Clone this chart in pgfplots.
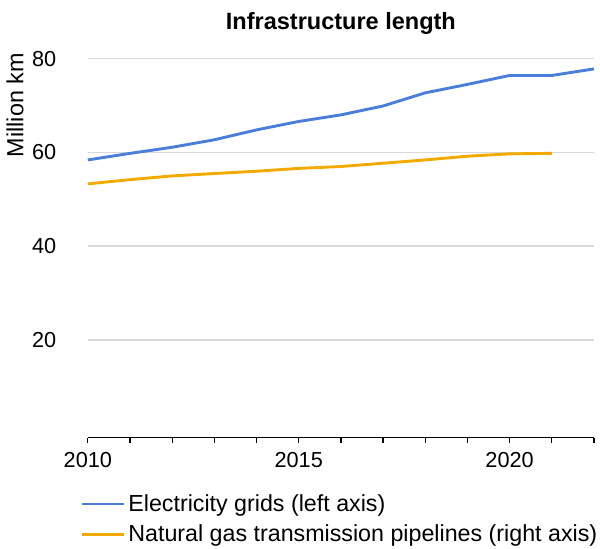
\documentclass[border=0pt]{standalone}
\usepackage{pgfplots}
\pgfplotsset{compat=1.18}
\usepackage{fontspec}
\setmainfont{Liberation Sans}
\definecolor{elec}{RGB}{74,126,216}
\definecolor{gas}{RGB}{242,169,0}
\definecolor{gridc}{RGB}{217,217,217}
\begin{document}
\begin{tikzpicture}
\begin{axis}[
  scale only axis,
  width=279.8pt, height=222.6pt,
  xmin=2010, xmax=2022, ymin=-0.8, ymax=85,
  clip=false,
  axis x line*=bottom,
  axis y line*=left,
  y axis line style={draw=none},
  x axis line style={black, line width=0.7pt},
  xtick={2010,2011,...,2022},
  xticklabels={2010,,,,,2015,,,,,2020,,},
  xtick style={black, line width=0.7pt},
  ytick style={draw=none},
  tick align=outside,
  xtick pos=bottom,
  major tick length=3pt,
  ytick={20,40,60,80},
  ymajorgrids,
  grid style={gridc, line width=1pt},
  /pgf/number format/assume math mode=true,
  /pgf/number format/1000 sep={},
  tick label style={font=\fontsize{12}{14}\selectfont, text=black},
  yticklabel style={anchor=east, xshift=-11pt},
  xticklabel style={yshift=-1.6pt},
  every axis title shift=0pt,
  title={\textbf{Infrastructure length}},
  title style={at={(axis description cs:0.5,1.029)}, anchor=center, yshift=0pt, font=\fontsize{13}{15}\selectfont},
  ylabel={Million km},
  every axis y label/.style={at={(axis description cs:-0.144,0.826)}, rotate=90, anchor=center, font=\fontsize{12.9}{15}\selectfont},
  legend style={at={(axis description cs:-0.015,-0.131)}, anchor=north west, draw=none, fill=none,
    font=\fontsize{12.85}{15}\selectfont, row sep=2pt, inner sep=0pt, nodes={inner xsep=1.5pt}},
  legend cell align=left,
  legend image code/.code={\draw[#1, line width=1.3pt] (0pt,0pt) -- (23.6pt,0pt);},
]
\draw[draw=none] (rel axis cs:-0.1736,-0.2644) rectangle (rel axis cs:1.0060,1.0872);
\addplot[elec, line width=1.6pt] coordinates {
(2010,58.4) (2011,59.8) (2012,61.1) (2013,62.7) (2014,64.8) (2015,66.6)
(2016,68.0) (2017,69.9) (2018,72.7) (2019,74.5) (2020,76.4) (2021,76.4) (2022,77.8)};
\addlegendentry{Electricity grids (left axis)}
\addplot[gas, line width=1.6pt] coordinates {
(2010,53.3) (2011,54.2) (2012,55.0) (2013,55.5) (2014,56.0) (2015,56.6)
(2016,57.0) (2017,57.7) (2018,58.4) (2019,59.2) (2020,59.7) (2021,59.8)};
\addlegendentry{Natural gas transmission pipelines (right axis)}
\end{axis}
\end{tikzpicture}
\end{document}
